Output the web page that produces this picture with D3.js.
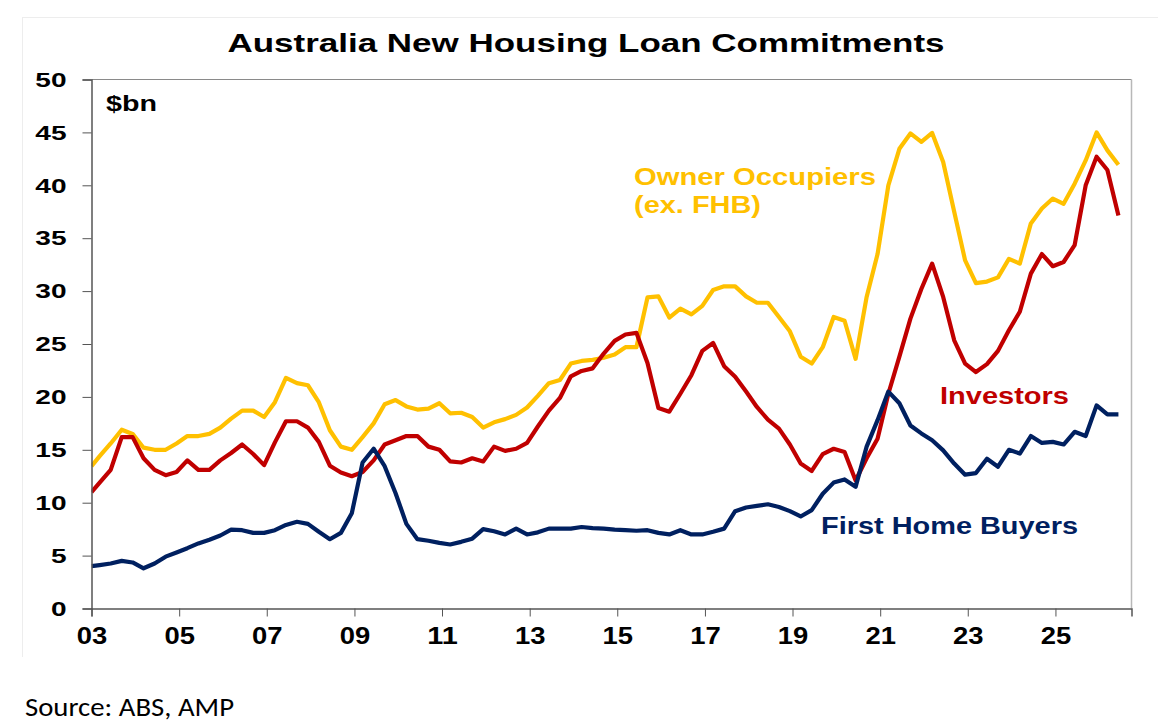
<!DOCTYPE html>
<html>
<head>
<meta charset="utf-8">
<script src="https://cdn.jsdelivr.net/npm/d3@7"></script>
<style>
  html, body { margin: 0; padding: 0; background: #ffffff; }
  svg { display: block; }
</style>
</head>
<body>
<script>
// ---- Data (quarterly, $bn) ----
// First entry is the value where each line meets the axis (Jan 2003), then quarterly points Mar-2003 .. Jun-2026
const dates = [new Date(2003, 0, 1)].concat(d3.range(94).map(j => new Date(2003, 2 + 3 * j, 10)));

const ownerOccupiers = [13.45,
  14.4, 15.6, 16.9, 16.5, 15.2, 15.0, 15.0, 15.6, 16.3, 16.3,
  16.5, 17.1, 17.95, 18.7, 18.7, 18.1, 19.5, 21.8, 21.3, 21.1,
  19.5, 16.85, 15.3, 15.0, 16.2, 17.5, 19.3, 19.7, 19.1, 18.8,
  18.9, 19.4, 18.45, 18.5, 18.1, 17.1, 17.6, 17.9, 18.3, 19.0,
  20.1, 21.3, 21.6, 23.15, 23.4, 23.5, 23.7, 24.0, 24.7, 24.7,
  29.4, 29.5, 27.5, 28.35, 27.8, 28.6, 30.1, 30.45, 30.45, 29.5,
  28.9, 28.9, 27.55, 26.2, 23.8, 23.15, 24.7, 27.55, 27.2, 23.6,
  29.45, 33.5, 40.0, 43.45, 44.9, 44.1, 44.95, 42.2, 37.5, 32.9,
  30.75, 30.9, 31.3, 33.05, 32.6, 36.4, 37.8, 38.75, 38.25, 40.15,
  42.35, 45.0, 43.3, 41.95];

const investors = [11.0,
  11.9, 13.1, 16.2, 16.2, 14.2, 13.1, 12.6, 12.9, 14.0, 13.1,
  13.1, 14.0, 14.7, 15.5, 14.6, 13.55, 15.7, 17.7, 17.7, 17.1,
  15.75, 13.5, 12.85, 12.5, 12.9, 14.0, 15.5, 15.9, 16.3, 16.3,
  15.3, 15.0, 13.9, 13.8, 14.2, 13.9, 15.3, 14.9, 15.1, 15.65,
  17.2, 18.7, 19.9, 21.95, 22.45, 22.7, 24.1, 25.3, 25.9, 26.05,
  23.2, 18.95, 18.6, 20.3, 22.05, 24.35, 25.1, 22.9, 21.9, 20.5,
  19.05, 17.85, 17.0, 15.5, 13.7, 13.0, 14.6, 15.1, 14.8, 12.1,
  14.2, 16.05, 20.3, 23.8, 27.4, 30.2, 32.6, 29.45, 25.35, 23.15,
  22.35, 23.1, 24.35, 26.3, 28.05, 31.65, 33.5, 32.35, 32.75, 34.35,
  40.0, 42.7, 41.45, 37.15];

const firstHomeBuyers = [4.0,
  4.1, 4.25, 4.5, 4.35, 3.8, 4.25, 4.9, 5.3, 5.7, 6.15,
  6.5, 6.9, 7.45, 7.4, 7.15, 7.15, 7.4, 7.9, 8.2, 8.0,
  7.25, 6.55, 7.15, 9.0, 13.8, 15.1, 13.45, 10.9, 8.0, 6.55,
  6.4, 6.2, 6.05, 6.3, 6.6, 7.5, 7.3, 7.0, 7.55, 7.0,
  7.2, 7.55, 7.55, 7.55, 7.7, 7.6, 7.55, 7.45, 7.4, 7.35,
  7.4, 7.15, 7.0, 7.4, 7.0, 7.0, 7.25, 7.55, 9.2, 9.55,
  9.7, 9.85, 9.6, 9.2, 8.7, 9.3, 10.85, 11.9, 12.2, 11.5,
  15.3, 17.8, 20.5, 19.4, 17.3, 16.55, 15.9, 14.95, 13.7, 12.65,
  12.8, 14.15, 13.4, 15.0, 14.65, 16.3, 15.65, 15.75, 15.5, 16.7,
  16.3, 19.2, 18.35, 18.35];

const yTicks = [0, 5, 10, 15, 20, 25, 30, 35, 40, 45, 50];
const xTickYears = [2003, 2005, 2007, 2009, 2011, 2013, 2015, 2017, 2019, 2021, 2023, 2025];

const seriesNames = ["Owner Occupiers", "Investors", "First Home Buyers"];
const seriesColors = ["#FFC000", "#C00000", "#002060"];
const seriesValues = [ownerOccupiers, investors, firstHomeBuyers];

// ---- Layout ----
const W = 1158, H = 724;
const plot = { left: 91.5, right: 1131.5, top: 79.5, bottom: 608.5 };
const FONT = "'Liberation Sans', Arial, Helvetica, sans-serif";

const svg = d3.select("body").append("svg").attr("width", W).attr("height", H);

// faint outer frame (top & left edges)
svg.append("line").attr("x1", 22).attr("x2", W).attr("y1", 17.5).attr("y2", 17.5)
  .attr("stroke", "#ededed").attr("stroke-width", 1);
svg.append("line").attr("x1", 22.5).attr("x2", 22.5).attr("y1", 17).attr("y2", 657)
  .attr("stroke", "#ededed").attr("stroke-width", 1);

const x = d3.scaleTime()
  .domain([new Date(2003, 0, 1), new Date(2026, 8, 27)])
  .range([plot.left, plot.right]);
const y = d3.scaleLinear().domain([0, 50]).range([plot.bottom, plot.top]);

// plot border top/right
svg.append("line").attr("x1", plot.left).attr("x2", plot.right).attr("y1", plot.top).attr("y2", plot.top)
  .attr("stroke", "#8a8a8a").attr("stroke-width", 1.2);
svg.append("line").attr("x1", plot.right).attr("x2", plot.right).attr("y1", plot.top).attr("y2", plot.bottom)
  .attr("stroke", "#b8b8b8").attr("stroke-width", 1.5);

// clip
svg.append("clipPath").attr("id", "clip").append("rect")
  .attr("x", plot.left).attr("y", plot.top - 10)
  .attr("width", plot.right - plot.left).attr("height", plot.bottom - plot.top + 10);

// Lines
const line = d3.line().x(d => x(d[0])).y(d => y(d[1])).curve(d3.curveLinear);
const g = svg.append("g").attr("clip-path", "url(#clip)");
seriesValues.forEach((vals, i) => {
  g.append("path")
    .datum(vals.map((v, k) => [dates[k], v]))
    .attr("d", line)
    .attr("fill", "none")
    .attr("stroke", seriesColors[i])
    .attr("stroke-width", 4.2)
    .attr("stroke-linejoin", "round")
    .attr("stroke-linecap", "butt");
});

// Axes
const yAxis = d3.axisLeft(y).tickValues(yTicks).tickSize(9).tickPadding(16).tickFormat(d3.format("d"));
const yg = svg.append("g").attr("transform", `translate(${plot.left},0)`).call(yAxis);
yg.select(".domain").attr("stroke", "#555").attr("stroke-width", 1.5);
yg.selectAll(".tick line").attr("stroke", "#555").attr("stroke-width", 1);
yg.selectAll(".tick text")
  .attr("font-family", FONT)
  .attr("font-weight", "bold").attr("font-size", 21).attr("fill", "#000")
  .attr("textLength", d => String(d).length * 15.6)
  .attr("lengthAdjust", "spacingAndGlyphs");

const xAxis = d3.axisBottom(x)
  .tickValues(xTickYears.map(yr => new Date(yr, 0, 1)))
  .tickSize(8).tickPadding(11)
  .tickFormat(d3.timeFormat("%y"));
const xg = svg.append("g").attr("transform", `translate(0,${plot.bottom})`).call(xAxis);
xg.select(".domain").attr("stroke", "#555").attr("stroke-width", 1.5);
xg.selectAll(".tick line").attr("stroke", "#555").attr("stroke-width", 1);
xg.selectAll(".tick text")
  .attr("font-family", FONT)
  .attr("font-weight", "bold").attr("font-size", 23).attr("fill", "#000")
  .attr("textLength", 30.5)
  .attr("lengthAdjust", "spacingAndGlyphs");

// text helper with fitted width
function label(txt, xx, yy, opts) {
  const t = svg.append("text").attr("x", xx).attr("y", yy)
    .attr("font-family", opts.family || FONT)
    .attr("font-weight", opts.weight || "bold")
    .attr("font-size", opts.size)
    .attr("fill", opts.color || "#000")
    .attr("text-anchor", opts.anchor || "start")
    .text(txt);
  if (opts.width) t.attr("textLength", opts.width).attr("lengthAdjust", "spacingAndGlyphs");
  return t;
}

// Title
label("Australia New Housing Loan Commitments", 586, 52, { size: 26, width: 717, anchor: "middle" });

// Unit label
label("$bn", 106, 111, { size: 22, width: 51 });

// Series labels
label("Owner Occupiers", 634, 185, { size: 23, width: 242, color: seriesColors[0] });
label("(ex. FHB)", 634, 213, { size: 23, width: 127, color: seriesColors[0] });
label("Investors", 940, 404, { size: 23, width: 129, color: seriesColors[1] });
label("First Home Buyers", 821, 534, { size: 23, width: 257, color: seriesColors[2] });

// Source
label("Source: ABS, AMP", 25, 716, { size: 26, width: 209, weight: "normal",
  family: "Carlito, Calibri, 'Open Sans', sans-serif" });
</script>
</body>
</html>
